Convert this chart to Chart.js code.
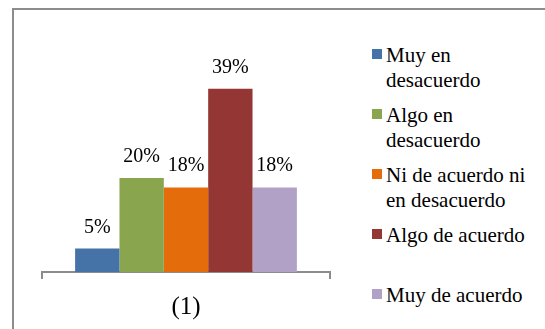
<!DOCTYPE html>
<html lang="es">
<head>
<meta charset="utf-8">
<title>Respuestas (1)</title>
<script src="https://cdn.jsdelivr.net/npm/chart.js@4"></script>
<style>
  html, body { margin: 0; padding: 0; background: #fff; }
  #wrap { position: relative; width: 545px; height: 329px; overflow: hidden; }
  #frame {
    position: absolute; left: 12px; top: 8px; width: 700px; height: 500px;
    border-left: 2px solid #8c8c8c; border-top: 2px solid #8c8c8c;
  }
  #grafico { position: absolute; left: 0; top: 0; }
  #leyenda {
    position: absolute; left: 372px; top: 41px; margin: 0; padding: 0; list-style: none;
    font-family: "Liberation Serif", Tinos, "DejaVu Serif", serif; font-size: 21px; color: #000;
  }
  #leyenda li { position: relative; height: 60px; }
  #leyenda .caja { position: absolute; left: 0; top: 8px; width: 10px; height: 10px; }
  #leyenda .texto { position: absolute; left: 14px; top: 2px; width: 152px; line-height: 25.3px; }
</style>
</head>
<body>
<div id="wrap">
  <div id="frame"></div>
  <canvas id="grafico" width="360" height="329"></canvas>
  <ul id="leyenda"></ul>
</div>
<script>
// categoría del eje x
const categorias = ["(1)"];
// respuestas de la escala
const respuestas = [
  "Muy en desacuerdo",
  "Algo en desacuerdo",
  "Ni de acuerdo ni en desacuerdo",
  "Algo de acuerdo",
  "Muy de acuerdo",
];
// porcentaje de cada respuesta
const porcentajes = [5, 20, 18, 39, 18];
const colores = ["#4572A7", "#89A54E", "#E46C0A", "#943634", "#B2A1C7"];

const serif = "'Liberation Serif', Tinos, 'DejaVu Serif', serif";

// etiquetas de valor encima de cada barra
const etiquetasValor = {
  id: "etiquetasValor",
  afterDatasetsDraw(chart) {
    const ctx = chart.ctx;
    ctx.save();
    ctx.font = "20px " + serif;
    ctx.fillStyle = "#000";
    ctx.textAlign = "center";
    ctx.textBaseline = "alphabetic";
    chart.data.datasets.forEach((ds, i) => {
      chart.getDatasetMeta(i).data.forEach((bar, j) => {
        ctx.fillText(ds.data[j] + "%", bar.x, bar.y - 16);
      });
    });
    ctx.restore();
  },
};

// leyenda en HTML a la derecha
const leyendaHtml = {
  id: "leyendaHtml",
  afterUpdate(chart) {
    const ul = document.getElementById("leyenda");
    ul.innerHTML = "";
    chart.options.plugins.legend.labels.generateLabels(chart).forEach((item) => {
      const li = document.createElement("li");
      const caja = document.createElement("span");
      caja.className = "caja";
      caja.style.background = item.fillStyle;
      const texto = document.createElement("span");
      texto.className = "texto";
      texto.textContent = item.text;
      li.appendChild(caja);
      li.appendChild(texto);
      ul.appendChild(li);
    });
  },
};

new Chart(document.getElementById("grafico"), {
  type: "bar",
  data: {
    labels: categorias,
    datasets: respuestas.map((r, i) => ({
      label: r,
      data: [porcentajes[i]],
      backgroundColor: colores[i],
      borderWidth: 0,
      categoryPercentage: 0.77,
      barPercentage: 1,
    })),
  },
  options: {
    responsive: false,
    animation: false,
    layout: { padding: { left: 42, right: 30, top: 37, bottom: 0 } },
    plugins: {
      legend: { display: false },
      tooltip: { enabled: false },
    },
    scales: {
      x: {
        offset: true,
        afterFit(scale) { scale.height = 57; },
        grid: {
          display: true,
          drawOnChartArea: false,
          drawTicks: true,
          tickLength: 7,
          color: "#8c8c8c",
          lineWidth: 2,
        },
        border: { display: true, color: "#8c8c8c", width: 2 },
        ticks: {
          color: "#000",
          padding: 13,
          font: { family: serif, size: 25 },
        },
      },
      y: {
        display: false,
        min: 0,
        max: 50,
      },
    },
  },
  plugins: [etiquetasValor, leyendaHtml],
});
</script>
</body>
</html>
